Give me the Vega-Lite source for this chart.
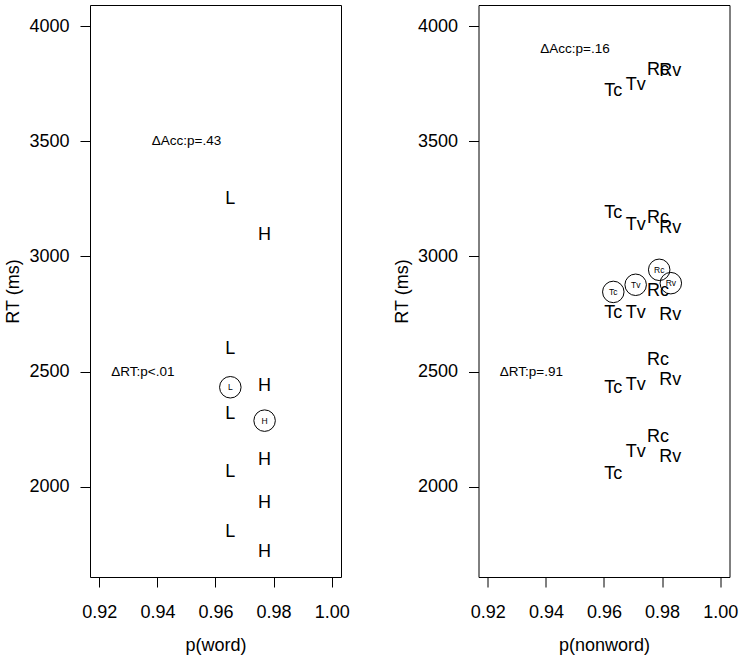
{
  "$schema": "https://vega.github.io/schema/vega-lite/v6.json",
  "padding": {"left": 4, "top": 4, "right": 5, "bottom": 5},
  "background": "white",
  "bounds": "flush",
  "spacing": 137.5,
  "datasets": {
    "pts": [
      {"panel": "word", "kind": "letter", "label": "L", "p": 0.9651, "rt": 3250},
      {"panel": "word", "kind": "letter", "label": "L", "p": 0.9651, "rt": 2597},
      {"panel": "word", "kind": "letter", "label": "L", "p": 0.9651, "rt": 2315},
      {"panel": "word", "kind": "letter", "label": "L", "p": 0.9651, "rt": 2064},
      {"panel": "word", "kind": "letter", "label": "L", "p": 0.9651, "rt": 1804},
      {"panel": "word", "kind": "letter", "label": "H", "p": 0.9769, "rt": 3094},
      {"panel": "word", "kind": "letter", "label": "H", "p": 0.9769, "rt": 2438},
      {"panel": "word", "kind": "letter", "label": "H", "p": 0.9769, "rt": 2117},
      {"panel": "word", "kind": "letter", "label": "H", "p": 0.9769, "rt": 1929},
      {"panel": "word", "kind": "letter", "label": "H", "p": 0.9769, "rt": 1715},
      {"panel": "word", "kind": "mean", "label": "L", "p": 0.9651, "rt": 2432},
      {"panel": "word", "kind": "mean", "label": "H", "p": 0.9769, "rt": 2287},
      {"panel": "word", "kind": "note", "label": "ΔAcc:p=.43", "p": 0.950, "rt": 3500},
      {"panel": "word", "kind": "note", "label": "ΔRT:p<.01", "p": 0.935, "rt": 2500},

      {"panel": "nonword", "kind": "letter", "label": "Tc", "p": 0.9632, "rt": 3719},
      {"panel": "nonword", "kind": "letter", "label": "Tv", "p": 0.9709, "rt": 3744},
      {"panel": "nonword", "kind": "letter", "label": "Rc", "p": 0.9786, "rt": 3809},
      {"panel": "nonword", "kind": "letter", "label": "Rv", "p": 0.9828, "rt": 3805},
      {"panel": "nonword", "kind": "letter", "label": "Tc", "p": 0.9632, "rt": 3188},
      {"panel": "nonword", "kind": "letter", "label": "Tv", "p": 0.9709, "rt": 3137},
      {"panel": "nonword", "kind": "letter", "label": "Rc", "p": 0.9786, "rt": 3166},
      {"panel": "nonword", "kind": "letter", "label": "Rv", "p": 0.9828, "rt": 3123},
      {"panel": "nonword", "kind": "letter", "label": "Tc", "p": 0.9632, "rt": 2756},
      {"panel": "nonword", "kind": "letter", "label": "Tv", "p": 0.9709, "rt": 2756},
      {"panel": "nonword", "kind": "letter", "label": "Rc", "p": 0.9786, "rt": 2848},
      {"panel": "nonword", "kind": "letter", "label": "Rv", "p": 0.9828, "rt": 2746},
      {"panel": "nonword", "kind": "letter", "label": "Tc", "p": 0.9632, "rt": 2428},
      {"panel": "nonword", "kind": "letter", "label": "Tv", "p": 0.9709, "rt": 2442},
      {"panel": "nonword", "kind": "letter", "label": "Rc", "p": 0.9786, "rt": 2551},
      {"panel": "nonword", "kind": "letter", "label": "Rv", "p": 0.9828, "rt": 2464},
      {"panel": "nonword", "kind": "letter", "label": "Tc", "p": 0.9632, "rt": 2056},
      {"panel": "nonword", "kind": "letter", "label": "Tv", "p": 0.9709, "rt": 2153},
      {"panel": "nonword", "kind": "letter", "label": "Rc", "p": 0.9786, "rt": 2215},
      {"panel": "nonword", "kind": "letter", "label": "Rv", "p": 0.9828, "rt": 2129},
      {"panel": "nonword", "kind": "mean", "label": "Tc", "p": 0.9632, "rt": 2846},
      {"panel": "nonword", "kind": "mean", "label": "Tv", "p": 0.9709, "rt": 2877},
      {"panel": "nonword", "kind": "mean", "label": "Rc", "p": 0.9790, "rt": 2942},
      {"panel": "nonword", "kind": "mean", "label": "Rv", "p": 0.9830, "rt": 2884},
      {"panel": "nonword", "kind": "note", "label": "ΔAcc:p=.16", "p": 0.950, "rt": 3903},
      {"panel": "nonword", "kind": "note", "label": "ΔRT:p=.91", "p": 0.935, "rt": 2500}
    ]
  },
  "hconcat": [
    {
      "width": 251,
      "height": 572,
      "data": {"name": "pts"},
      "transform": [{"filter": "datum.panel === 'word'"}],
      "encoding": {
        "x": {"field": "p", "type": "quantitative", "title": "p(word)",
              "scale": {"domain": [0.9168, 1.0032], "nice": false, "zero": false},
              "axis": {"values": [0.92, 0.94, 0.96, 0.98, 1.0], "format": ".2f"}},
        "y": {"field": "rt", "type": "quantitative", "title": "RT (ms)",
              "scale": {"domain": [1608, 4092], "nice": false, "zero": false},
              "axis": {"values": [2000, 2500, 3000, 3500, 4000], "format": "d"}}
      },
      "layer": [
        {"transform": [{"filter": "datum.kind === 'letter'"}],
         "mark": {"type": "text", "fontSize": 18, "font": "Liberation Sans", "color": "black", "baseline": "middle", "align": "center"},
         "encoding": {"text": {"field": "label"}}},
        {"transform": [{"filter": "datum.kind === 'mean'"}],
         "mark": {"type": "point", "shape": "circle", "size": 462, "filled": false, "stroke": "black", "strokeWidth": 1, "opacity": 1}},
        {"transform": [{"filter": "datum.kind === 'mean'"}],
         "mark": {"type": "text", "fontSize": 8.5, "font": "Liberation Sans", "color": "black", "baseline": "middle", "align": "center"},
         "encoding": {"text": {"field": "label"}}},
        {"transform": [{"filter": "datum.kind === 'note'"}],
         "mark": {"type": "text", "fontSize": 13.5, "font": "Liberation Sans", "color": "black", "baseline": "middle", "align": "center"},
         "encoding": {"text": {"field": "label"}}}
      ]
    },
    {
      "width": 251,
      "height": 572,
      "data": {"name": "pts"},
      "transform": [{"filter": "datum.panel === 'nonword'"}],
      "encoding": {
        "x": {"field": "p", "type": "quantitative", "title": "p(nonword)",
              "scale": {"domain": [0.9168, 1.0032], "nice": false, "zero": false},
              "axis": {"values": [0.92, 0.94, 0.96, 0.98, 1.0], "format": ".2f"}},
        "y": {"field": "rt", "type": "quantitative", "title": "RT (ms)",
              "scale": {"domain": [1608, 4092], "nice": false, "zero": false},
              "axis": {"values": [2000, 2500, 3000, 3500, 4000], "format": "d"}}
      },
      "layer": [
        {"transform": [{"filter": "datum.kind === 'letter'"}],
         "mark": {"type": "text", "fontSize": 18, "font": "Liberation Sans", "color": "black", "baseline": "middle", "align": "center"},
         "encoding": {"text": {"field": "label"}}},
        {"transform": [{"filter": "datum.kind === 'mean'"}],
         "mark": {"type": "point", "shape": "circle", "size": 462, "filled": false, "stroke": "black", "strokeWidth": 1, "opacity": 1}},
        {"transform": [{"filter": "datum.kind === 'mean'"}],
         "mark": {"type": "text", "fontSize": 8.5, "font": "Liberation Sans", "color": "black", "baseline": "middle", "align": "center"},
         "encoding": {"text": {"field": "label"}}},
        {"transform": [{"filter": "datum.kind === 'note'"}],
         "mark": {"type": "text", "fontSize": 13.5, "font": "Liberation Sans", "color": "black", "baseline": "middle", "align": "center"},
         "encoding": {"text": {"field": "label"}}}
      ]
    }
  ],
  "config": {
    "view": {"stroke": "black", "strokeWidth": 1},
    "axis": {
      "grid": false, "domain": false,
      "tickColor": "black", "tickSize": 10, "tickWidth": 1,
      "labelFont": "Liberation Sans", "labelFontSize": 18, "labelColor": "black",
      "titleFont": "Liberation Sans", "titleFontSize": 18, "titleFontWeight": "normal", "titleColor": "black"
    },
    "axisX": {"labelPadding": 16.5, "titlePadding": 15, "labelFlush": false},
    "axisY": {"labelPadding": 11, "titlePadding": 6, "labelAngle": 0}
  }
}
